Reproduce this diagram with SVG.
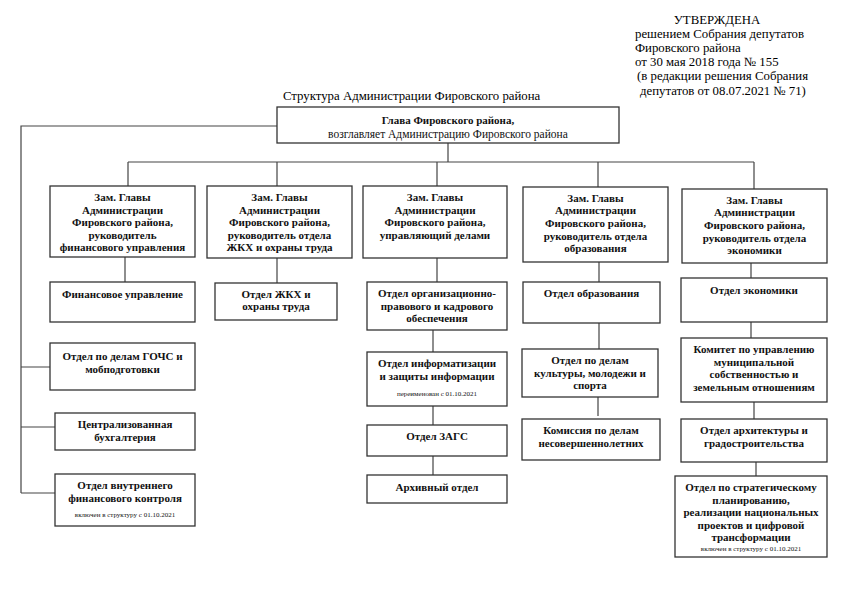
<svg xmlns="http://www.w3.org/2000/svg" width="842" height="595" viewBox="0 0 842 595">
<style>
.box{fill:#fff;stroke:#333;stroke-width:1.3}
.ln{fill:none;stroke:#444;stroke-width:1.2}
.b{font-family:"Liberation Serif","Times New Roman",serif;font-weight:bold;font-size:11px;text-anchor:middle;fill:#111}
.r{font-family:"Liberation Serif","Times New Roman",serif;font-size:11.5px;text-anchor:middle;fill:#111}
.n{font-family:"Liberation Serif","Times New Roman",serif;font-size:7px;text-anchor:middle;fill:#111}
.h{font-family:"Liberation Serif","Times New Roman",serif;font-size:12.8px;fill:#000}
</style>
<rect width="842" height="595" fill="#fff"/>
<g id="header">
<text class="h" x="717" y="23.6" text-anchor="middle">УТВЕРЖДЕНА</text>
<text class="h" x="635" y="37.8">решением Собрания депутатов</text>
<text class="h" x="635" y="52">Фировского района</text>
<text class="h" x="635" y="66.2">от 30 мая 2018 года № 155</text>
<text class="h" x="637" y="80.4"> (в редакции решения Собрания</text>
<text class="h" x="640" y="94.6">депутатов от 08.07.2021 № 71)</text>
<text class="h" x="283" y="99.5" font-size="14.7">Структура Администрации Фировского района</text>
</g>
<g id="connectors">
<path class="ln" d="M277 126H21V493"/>
<path class="ln" d="M21 493H55" stroke="#9dbbe3"/>
<path class="ln" d="M21 367H55M21 427H55"/>
<path class="ln" d="M448 143V162M128 162H754M128 162V186M277 162V186M437 162V186M598 162V187M754 162V189"/>
<path class="ln" d="M125 257V282M277 258V283"/>
<path class="ln" d="M437 258V282M433 330V352M433 406V425M433 456V475"/>
<path class="ln" d="M599 262V282M599 323V349M598 397V416"/>
<path class="ln" d="M751 263V278M751 322V338M754 402V419M756 462V476"/>
</g>
<g id="head">
<rect class="box" x="277" y="107" width="342" height="36"/>
<text class="b" x="448" y="124" font-size="11.5">Глава Фировского района,</text>
<text class="r" x="448" y="138">возглавляет Администрацию Фировского района</text>
</g>
<g id="dep1">
<rect class="box" x="50" y="186" width="145" height="71"/>
<text class="b" x="122.5" y="201">Зам. Главы</text>
<text class="b" x="122.5" y="214">Администрации</text>
<text class="b" x="122.5" y="226">Фировского района,</text>
<text class="b" x="122.5" y="239">руководитель</text>
<text class="b" x="122.5" y="251">финансового управления</text>
</g>
<g id="dep2">
<rect class="box" x="207" y="186" width="145" height="72"/>
<text class="b" x="279.5" y="201">Зам. Главы</text>
<text class="b" x="279.5" y="214">Администрации</text>
<text class="b" x="279.5" y="226">Фировского района,</text>
<text class="b" x="279.5" y="239">руководитель отдела</text>
<text class="b" x="279.5" y="251">ЖКХ и охраны труда</text>
</g>
<g id="dep3">
<rect class="box" x="363" y="186" width="144" height="72"/>
<text class="b" x="435" y="201">Зам. Главы</text>
<text class="b" x="435" y="214">Администрации</text>
<text class="b" x="435" y="226">Фировского района,</text>
<text class="b" x="435" y="239">управляющий делами</text>
</g>
<g id="dep4">
<rect class="box" x="523" y="187" width="145" height="75"/>
<text class="b" x="595.5" y="202">Зам. Главы</text>
<text class="b" x="595.5" y="214">Администрации</text>
<text class="b" x="595.5" y="227">Фировского района,</text>
<text class="b" x="595.5" y="240">руководитель отдела</text>
<text class="b" x="595.5" y="252">образования</text>
</g>
<g id="dep5">
<rect class="box" x="682" y="189" width="145" height="74"/>
<text class="b" x="754.5" y="204">Зам. Главы</text>
<text class="b" x="754.5" y="216">Администрации</text>
<text class="b" x="754.5" y="229">Фировского района,</text>
<text class="b" x="754.5" y="242">руководитель отдела</text>
<text class="b" x="754.5" y="254">экономики</text>
</g>
<g id="fin">
<rect class="box" x="50" y="282" width="145" height="40"/>
<text class="b" x="122.5" y="298">Финансовое управление</text>
</g>
<g id="zhkh">
<rect class="box" x="215" y="283" width="122" height="37"/>
<text class="b" x="276" y="298">Отдел ЖКХ и</text>
<text class="b" x="276" y="310">охраны труда</text>
</g>
<g id="gochs">
<rect class="box" x="50" y="343" width="145" height="47"/>
<text class="b" x="122.5" y="360">Отдел по делам ГОЧС и</text>
<text class="b" x="122.5" y="373">мобподготовки</text>
</g>
<g id="buh">
<rect class="box" x="55" y="413" width="140" height="37"/>
<text class="b" x="125" y="428">Централизованная</text>
<text class="b" x="125" y="441">бухгалтерия</text>
</g>
<g id="vfk">
<rect class="box" x="55" y="474" width="140" height="52"/>
<text class="b" x="125" y="489">Отдел внутреннего</text>
<text class="b" x="125" y="502">финансового контроля</text>
<text class="n" x="125" y="517">включен в структуру с 01.10.2021</text>
</g>
<g id="org">
<rect class="box" x="367" y="282" width="140" height="48"/>
<text class="b" x="437" y="297">Отдел организационно-</text>
<text class="b" x="437" y="310">правового и кадрового</text>
<text class="b" x="437" y="322">обеспечения</text>
</g>
<g id="info">
<rect class="box" x="367" y="352" width="140" height="54"/>
<text class="b" x="437" y="367">Отдел информатизации</text>
<text class="b" x="437" y="380">и защиты информации</text>
<text class="n" x="437" y="396">переименован с 01.10.2021</text>
</g>
<g id="zags">
<rect class="box" x="367" y="425" width="140" height="31"/>
<text class="b" x="437" y="440">Отдел ЗАГС</text>
</g>
<g id="arch">
<rect class="box" x="367" y="475" width="140" height="28"/>
<text class="b" x="437" y="491">Архивный отдел</text>
</g>
<g id="obr">
<rect class="box" x="523" y="282" width="137" height="41"/>
<text class="b" x="591.5" y="297">Отдел образования</text>
</g>
<g id="kult">
<rect class="box" x="522" y="349" width="136" height="48"/>
<text class="b" x="590" y="364">Отдел по делам</text>
<text class="b" x="590" y="377">культуры, молодежи и</text>
<text class="b" x="590" y="389">спорта</text>
</g>
<g id="kdn">
<rect class="box" x="522" y="419" width="138" height="41"/>
<text class="b" x="591" y="434">Комиссия по делам</text>
<text class="b" x="591" y="447">несовершеннолетних</text>
</g>
<g id="econ">
<rect class="box" x="681" y="278" width="146" height="44"/>
<text class="b" x="754" y="294">Отдел экономики</text>
</g>
<g id="kumi">
<rect class="box" x="681" y="338" width="146" height="64"/>
<text class="b" x="754" y="353">Комитет по управлению</text>
<text class="b" x="754" y="366">муниципальной</text>
<text class="b" x="754" y="378">собственностью и</text>
<text class="b" x="754" y="391">земельным отношениям</text>
</g>
<g id="archit">
<rect class="box" x="681" y="419" width="146" height="43"/>
<text class="b" x="754" y="434">Отдел архитектуры и</text>
<text class="b" x="754" y="447">градостроительства</text>
</g>
<g id="strat">
<rect class="box" x="675" y="476" width="152" height="81"/>
<text class="b" x="751" y="491">Отдел по стратегическому</text>
<text class="b" x="751" y="504">планированию,</text>
<text class="b" x="751" y="516">реализации национальных</text>
<text class="b" x="751" y="529">проектов и цифровой</text>
<text class="b" x="751" y="541">трансформации</text>
<text class="n" x="751" y="551">включен в структуру с 01.10.2021</text>
</g>
</svg>
